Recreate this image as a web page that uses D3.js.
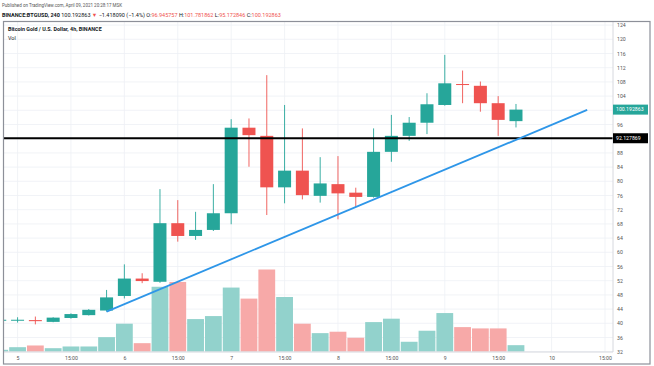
<!DOCTYPE html>
<html>
<head>
<meta charset="utf-8">
<script src="https://cdn.jsdelivr.net/npm/d3@7"></script>
<style>
  body { margin: 0; background: #fff; }
  text { font-family: Roboto, "Liberation Sans", sans-serif; }
</style>
</head>
<body>
<script>
// 4h candles, Apr 4 23:00 .. Apr 9 15:00 (MSK)
const times = ["4 23:00",
  "5 03:00", "5 07:00", "5 11:00", "5 15:00", "5 19:00", "5 23:00",
  "6 03:00", "6 07:00", "6 11:00", "6 15:00", "6 19:00", "6 23:00",
  "7 03:00", "7 07:00", "7 11:00", "7 15:00", "7 19:00", "7 23:00",
  "8 03:00", "8 07:00", "8 11:00", "8 15:00", "8 19:00", "8 23:00",
  "9 03:00", "9 07:00", "9 11:00", "9 15:00", "9 19:00"];
const open  = [40.8, 40.9, 40.9, 40.4, 41.5, 42.3, 43.6, 47.7, 52.6, 51.7, 68.2, 64.6, 66.3, 71.0, 95.1,
               92.8, 78.3, 83.0, 75.9, 79.2, 76.8, 75.6, 88.3, 92.8, 96.5, 101.5, 107.4, 106.9, 102.0, 96.945757];
const high  = [41.1, 41.7, 41.9, 41.7, 42.8, 44.0, 49.4, 56.6, 54.1, 77.8, 74.7, 71.4, 79.2, 97.5, 97.7,
               109.9, 101.5, 94.9, 86.8, 87.1, 78.2, 94.9, 98.7, 98.1, 104.8, 115.6, 111.2, 108.1, 104.0, 101.781862];
const low   = [40.6, 40.2, 39.7, 40.3, 41.3, 42.2, 43.3, 47.0, 51.3, 51.4, 63.0, 63.5, 66.0, 67.9, 84.1,
               70.5, 73.8, 74.9, 74.0, 69.3, 72.8, 75.4, 85.5, 91.4, 93.3, 101.3, 102.0, 99.6, 92.8, 95.172846];
const close = [41.0, 41.0, 40.6, 41.6, 42.6, 43.8, 47.3, 52.6, 51.9, 68.2, 64.6, 66.3, 71.0, 95.1, 93.0,
               78.3, 83.0, 76.1, 79.4, 76.6, 75.6, 88.3, 92.8, 96.5, 101.7, 107.6, 107.2, 102.0, 97.3, 100.192863];
const volume = [1700, 4300, 6000, 3300, 5000, 5000, 14300, 27700, 8300, 64500, 69300, 32300, 35300, 63700, 52700,
                81700, 54300, 27700, 18300, 19700, 13700, 29300, 32700, 9700, 20700, 38300, 24300, 23000, 23000, 6300];

const priceTicks = [32, 36, 40, 44, 48, 52, 56, 60, 64, 68, 72, 76, 80, 84, 88, 92, 96,
                    100, 104, 108, 112, 116, 120, 124];
const timeTickIdx = [0, 3, 6, 9, 12, 15, 18, 21, 24, 27, 30, 33];   // slot index from Apr 5 03:00
const timeTickLabels = ["5", "15:00", "6", "15:00", "7", "15:00", "8", "15:00", "9", "15:00", "10", "15:00"];

const levelPrice = 92.127869;
const trendLine = [[5, 43.3], [32, 100.1]];   // [slot, price]

const W = 654, H = 366;
const plot = {left: 3.5, top: 21.5, right: 613, bottom: 352};
const up = '#26a69a', down = '#ef5350';

const candles = times.map((t, i) => ({
  t, slot: i - 1, o: open[i], h: high[i], l: low[i], c: close[i], v: volume[i]
}));
const last = close[close.length - 1];

const svg = d3.select('body').append('svg')
  .attr('width', W).attr('height', H);

// header
svg.append('text')
  .attr('x', 2).attr('y', 7)
  .attr('font-size', '4.5px').attr('fill', '#555')
  .text('Published on TradingView.com, April 09, 2021 20:28:17 MSK');

const hdr = svg.append('text')
  .attr('x', 2).attr('y', 16.5)
  .attr('font-size', '5.5px').attr('fill', '#131722');
hdr.append('tspan').attr('font-weight', 'bold').text('BINANCE:BTGUSD, 240 ');
hdr.append('tspan').text('100.192863 ');
hdr.append('tspan').attr('fill', down).text('▼ ');
hdr.append('tspan').text('−1.418090 (−1.4%) ');
[['O:', '96.945757'], ['H:', '101.781862'], ['L:', '95.172846'], ['C:', '100.192863']].forEach(([k, v]) => {
  hdr.append('tspan').text(k);
  hdr.append('tspan').attr('fill', down).text(v + ' ');
});

// scales
const x = d3.scaleLinear().domain([-0.79, 33.45]).range([plot.left, plot.right]);
const y = d3.scaleLinear().domain([32, 124]).range([351.7, 25.1]);
const yVol = d3.scaleLinear().domain([0, d3.max(volume)]).range([351.5, 269.5]);
const step = x(1) - x(0);

svg.append('clipPath').attr('id', 'clip')
  .append('rect')
    .attr('x', plot.left).attr('y', plot.top)
    .attr('width', plot.right - plot.left).attr('height', plot.bottom - plot.top);

// grid
const grid = svg.append('g').attr('clip-path', 'url(#clip)');
grid.selectAll('.hg').data(priceTicks).enter().append('line')
  .attr('x1', plot.left).attr('x2', plot.right)
  .attr('y1', d => y(d)).attr('y2', d => y(d))
  .attr('stroke', '#eef0f5').attr('stroke-width', 0.8);
grid.selectAll('.vg').data(timeTickIdx).enter().append('line')
  .attr('x1', d => x(d)).attr('x2', d => x(d))
  .attr('y1', plot.top).attr('y2', plot.bottom)
  .attr('stroke', '#eef0f5').attr('stroke-width', 0.8);

const g = svg.append('g').attr('clip-path', 'url(#clip)');

// volume
g.selectAll('.vol').data(candles).enter().append('rect')
  .attr('x', d => x(d.slot) - step / 2 + 0.5)
  .attr('width', step - 1)
  .attr('y', d => yVol(d.v))
  .attr('height', d => yVol(0) - yVol(d.v))
  .attr('fill', d => d.c >= d.o ? '#92d2cc' : '#f7a9a8');

// candles
g.selectAll('.wick').data(candles).enter().append('line')
  .attr('x1', d => x(d.slot)).attr('x2', d => x(d.slot))
  .attr('y1', d => y(d.h)).attr('y2', d => y(d.l))
  .attr('stroke', d => d.c >= d.o ? up : down).attr('stroke-width', 0.9);
g.selectAll('.body').data(candles).enter().append('rect')
  .attr('x', d => x(d.slot) - 6.5)
  .attr('width', 13)
  .attr('y', d => y(Math.max(d.o, d.c)))
  .attr('height', d => Math.max(1, Math.abs(y(d.o) - y(d.c))))
  .attr('fill', d => d.c >= d.o ? up : down);

// horizontal level
g.append('line')
  .attr('x1', plot.left).attr('x2', plot.right)
  .attr('y1', y(levelPrice)).attr('y2', y(levelPrice))
  .attr('stroke', '#000').attr('stroke-width', 1.8);

// trend line
g.append('line')
  .attr('x1', x(trendLine[0][0])).attr('y1', y(trendLine[0][1]))
  .attr('x2', x(trendLine[1][0])).attr('y2', y(trendLine[1][1]))
  .attr('stroke', '#2e96e8').attr('stroke-width', 1.8);

// axes
const yAxis = d3.axisRight(y).tickValues(priceTicks).tickSize(0).tickPadding(4);
const yAxisGroup = svg.append('g')
  .attr('transform', `translate(${plot.right}, 0)`)
  .call(yAxis);
yAxisGroup.select('.domain').attr('stroke', '#d6d8de')
  .attr('d', `M0,${plot.top}V${plot.bottom}`);
yAxisGroup.selectAll('text').attr('font-size', '5.2px').attr('fill', '#555')
  .attr('font-family', 'Roboto, sans-serif');
// labels hidden behind the price tags
yAxisGroup.selectAll('.tick')
  .filter(d => Math.abs(y(d) - y(last)) < 7 || Math.abs(y(d) - y(levelPrice)) < 7)
  .remove();

const xAxis = d3.axisBottom(x).tickValues(timeTickIdx)
  .tickFormat((d, i) => timeTickLabels[i]).tickSize(0).tickPadding(4);
const xAxisGroup = svg.append('g')
  .attr('transform', `translate(0, ${plot.bottom})`)
  .call(xAxis);
xAxisGroup.select('.domain').attr('stroke', '#d6d8de')
  .attr('d', `M${plot.left},0H${plot.right}`);
xAxisGroup.selectAll('text').attr('font-size', '5.2px').attr('fill', '#555')
  .attr('font-family', 'Roboto, sans-serif');

// price tags
[[last, up], [levelPrice, '#000']].forEach(([p, col]) => {
  svg.append('rect')
    .attr('x', plot.right).attr('y', y(p) - 5)
    .attr('width', 35).attr('height', 10).attr('fill', col);
  svg.append('text')
    .attr('x', plot.right + 3).attr('y', y(p) + 1.8)
    .attr('font-size', '5.2px').attr('fill', '#fff')
    .text(d3.format('.6f')(p));
});

// frame
svg.append('rect')
  .attr('x', 3.5).attr('y', 21.5)
  .attr('width', 646.5).attr('height', 342.5)
  .attr('fill', 'none').attr('stroke', '#8d9099').attr('stroke-width', 1.2);

// legend inside pane
svg.append('text')
  .attr('x', 8).attr('y', 31)
  .attr('font-size', '5.4px').attr('font-weight', 'bold').attr('fill', '#131722')
  .text('Bitcoin Gold / U.S. Dollar, 4h, BINANCE');
svg.append('text')
  .attr('x', 8).attr('y', 39.5)
  .attr('font-size', '5.4px').attr('fill', '#131722')
  .text('Vol');
</script>
</body>
</html>
